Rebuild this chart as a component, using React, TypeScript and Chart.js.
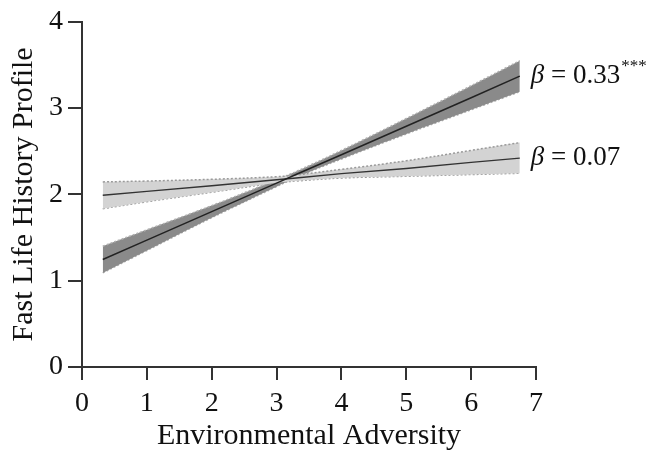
import React, { useEffect, useRef } from "react";
import { Chart, registerables } from "chart.js";

Chart.register(...registerables);

const xs = [0.32, 1, 2, 3, 3.3, 4, 5, 6, 6.75];
const highLine = [1.245, 1.47, 1.8, 2.13, 2.23, 2.46, 2.79, 3.12, 3.37];
const highUpper = [1.4, 1.59, 1.87, 2.17, 2.265, 2.51, 2.88, 3.26, 3.55];
const highLower = [1.09, 1.35, 1.73, 2.09, 2.195, 2.41, 2.7, 2.98, 3.19];
const lowLine = [1.99, 2.035, 2.1, 2.17, 2.19, 2.24, 2.3, 2.37, 2.42];
const lowUpper = [2.145, 2.155, 2.175, 2.205, 2.225, 2.29, 2.39, 2.51, 2.6];
const lowLower = [1.835, 1.915, 2.025, 2.135, 2.155, 2.19, 2.21, 2.23, 2.245];
const betaValues = ["0.33", "0.07"];
const betaStars = ["***", ""];
const xTicks = [0, 1, 2, 3, 4, 5, 6, 7];
const yTicks = [0, 1, 2, 3, 4];

const FONT = "'Liberation Serif', 'DejaVu Serif', serif";

const pts = (ys: number[]) => xs.map((x, i) => ({ x, y: ys[i] }));

export default function App() {
  const ref = useRef<HTMLCanvasElement>(null);
  useEffect(() => {
    if (!ref.current) return;
    const labelPlugin = {
      id: "betaLabels",
      afterDatasetsDraw(chart: any) {
        const { ctx, scales } = chart;
        const xEnd = xs[xs.length - 1];
        const ends = [highLine[highLine.length - 1], lowLine[lowLine.length - 1]];
        ctx.save();
        ctx.fillStyle = "#111";
        ctx.textBaseline = "middle";
        ends.forEach((yv, i) => {
          let px = scales.x.getPixelForValue(xEnd) + 11;
          const py = scales.y.getPixelForValue(yv);
          ctx.font = `italic 27px ${FONT}`;
          ctx.fillText("β", px, py);
          px += ctx.measureText("β").width;
          ctx.font = `27px ${FONT}`;
          const t = " = " + betaValues[i];
          ctx.fillText(t, px, py);
          px += ctx.measureText(t).width;
          if (betaStars[i]) {
            ctx.font = `17px ${FONT}`;
            ctx.fillText(betaStars[i], px + 1, py - 10);
          }
        });
        ctx.restore();
      },
    };
    const edge = (ys: number[], fill: any, bg: string, border: string, order: number) => ({
      data: pts(ys),
      borderColor: border,
      borderWidth: 1.5,
      borderDash: [2, 2],
      backgroundColor: bg,
      fill,
      pointRadius: 0,
      tension: 0.4,
      order,
    });
    const chart = new Chart(ref.current, {
      type: "line",
      data: {
        datasets: [
          { data: pts(highLine), borderColor: "#222", borderWidth: 1.5, pointRadius: 0, fill: false, order: 0 },
          { data: pts(lowLine), borderColor: "#333", borderWidth: 1.3, pointRadius: 0, fill: false, order: 1 },
          edge(lowUpper, "+1", "#d3d3d3", "#9a9a9a", 2),
          edge(lowLower, false, "#d3d3d3", "#9a9a9a", 3),
          edge(highUpper, "+1", "#8a8a8a", "#b0b0b0", 4),
          edge(highLower, false, "#8a8a8a", "#b0b0b0", 5),
        ] as any,
      },
      options: {
        animation: false,
        responsive: false,
        maintainAspectRatio: false,
        layout: { padding: { top: 6, right: 111, left: 6, bottom: 0 } },
        plugins: { legend: { display: false }, tooltip: { enabled: false } },
        scales: {
          x: {
            type: "linear",
            min: 0,
            max: 7,
            afterBuildTicks: (s: any) => { s.ticks = xTicks.map((v) => ({ value: v })); },
            afterFit: (s: any) => { s.height = 84; },
            border: { display: true, color: "#333", width: 2 },
            grid: { drawOnChartArea: false, drawTicks: true, tickLength: 13, color: "#333", lineWidth: 2 },
            ticks: { color: "#111", font: { family: FONT, size: 28 }, padding: 7, maxRotation: 0 },
            title: { display: true, text: "Environmental Adversity", color: "#111", font: { family: FONT, size: 30 }, padding: { top: 0, bottom: -3 } },
          },
          y: {
            type: "linear",
            min: 0,
            max: 4,
            afterBuildTicks: (s: any) => { s.ticks = yTicks.map((v) => ({ value: v })); },
            afterFit: (s: any) => { s.width = 76; },
            border: { display: true, color: "#333", width: 2 },
            grid: { drawOnChartArea: false, drawTicks: true, tickLength: 14, color: "#333", lineWidth: 2 },
            ticks: { color: "#111", font: { family: FONT, size: 28 }, padding: 5 },
            title: { display: true, text: "Fast Life History Profile", color: "#111", font: { family: FONT, size: 30 }, padding: { top: 0, bottom: 2 } },
          },
        },
      } as any,
      plugins: [labelPlugin],
    });
    return () => chart.destroy();
  }, []);
  return (
    <div style={{ position: "fixed", left: 0, top: 0, width: 647, height: 451, background: "#fff" }}>
      <canvas ref={ref} width={647} height={451} />
    </div>
  );
}
